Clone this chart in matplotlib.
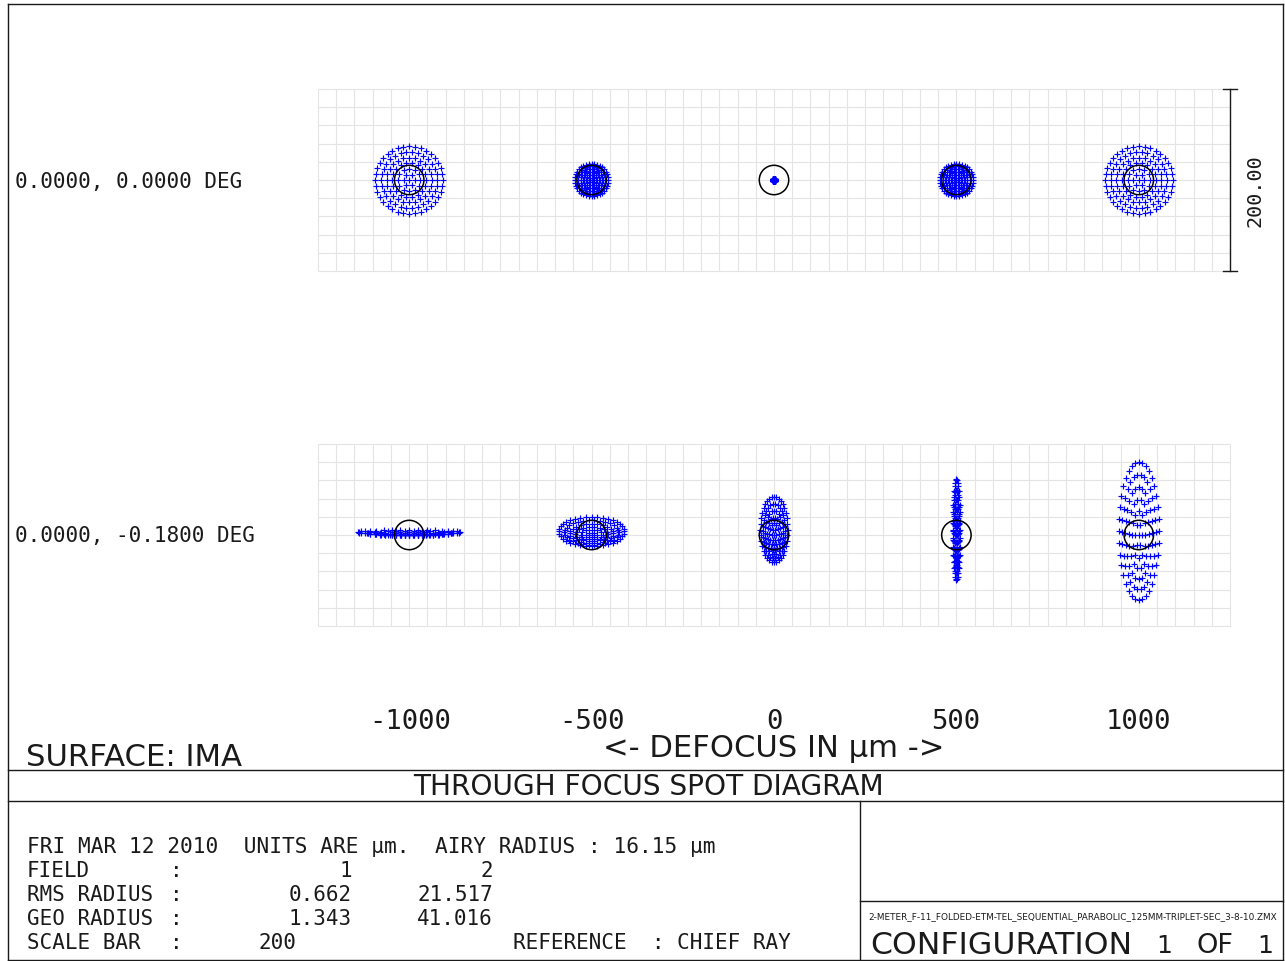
"""Through-focus spot diagram (Zemax style) redrawn with matplotlib."""

import numpy as np
import matplotlib
matplotlib.use("Agg")
import matplotlib.pyplot as plt
from matplotlib.lines import Line2D
from matplotlib.patches import Circle

W, H = 1285, 962

DEFOCUS = [-1000, -500, 0, 500, 1000]
FIELDS = ["0.0000, 0.0000 DEG", "0.0000, -0.1800 DEG"]
AIRY_RADIUS = 16.15
SCALE_BAR = 200
# spot half-widths / half-heights in µm
F1_HALF_X = [37, 18, 1.3, 18, 37]
F1_HALF_Y = [37, 18, 1.3, 18, 37]
F1_COMA = [0, 0, 0, 0, 0]
F2_HALF_X = [56, 36, 15, 4, 22]
F2_HALF_Y = [2.5, 16, 36, 55, 76]
F2_COMA = [3, 4, 6, 6, 4.5]
N_RINGS = 6

FIELD_NO = ["1", "2"]
RMS_RADIUS = ["0.662", "21.517"]
GEO_RADIUS = ["1.343", "41.016"]
LENS_FILE = ("2-METER_F-11_FOLDED-ETM-TEL_SEQUENTIAL_PARABOLIC_"
             "125MM-TRIPLET-SEC_3-8-10.ZMX")

MONO = "DejaVu Sans Mono"
WIDE = "DejaVu Sans"
INK = "#1a1a1a"
BLUE = "#0000ff"
GRID = "#e4e4e4"

fig = plt.figure(figsize=(W / 100, H / 100), dpi=100)
renderer = fig.canvas.get_renderer()


def fx(x):
    return x / W


def fy(y):
    return 1 - y / H


def hline(x0, x1, y, **kw):
    fig.add_artist(Line2D([fx(x0), fx(x1)], [fy(y), fy(y)],
                          transform=fig.transFigure, color=INK, lw=1.0, **kw))


def vline(x, y0, y1, **kw):
    fig.add_artist(Line2D([fx(x), fx(x)], [fy(y0), fy(y1)],
                          transform=fig.transFigure, color=INK, lw=1.0, **kw))


def txt(x, y, s, size, ha="left", family=MONO, **kw):
    return fig.text(fx(x), fy(y), s, ha=ha, va="center", fontsize=size,
                    family=family, color=INK, **kw)


def fit(x0, x1, y, s, size=15, family=MONO):
    # shrink/grow the font so the string spans x0..x1 pixels
    t = txt(x0, y, s, size, family=family)
    w = t.get_window_extent(renderer).width
    t.set_fontsize(size * (x1 - x0) / w)
    return t


# hexapolar pupil sampling
px, py = [0.0], [0.0]
for k in range(1, N_RINGS + 1):
    r = k / N_RINGS
    ang = 2 * np.pi * np.arange(6 * k) / (6 * k)
    px.extend(r * np.cos(ang))
    py.extend(r * np.sin(ang))
px, py = np.array(px), np.array(py)
r2 = px ** 2 + py ** 2


def panel(ytop, half_x, half_y, coma):
    ax = fig.add_axes([fx(318), fy(ytop + 182), 912 / W, 182 / H])
    ax.set_xlim(0, 1000)
    ax.set_ylim(-100, 100)
    ax.axis("off")
    g = np.arange(0, 1001, 20)
    ax.vlines(g, -100, 100, color=GRID, lw=0.8, zorder=0, clip_on=False)
    ax.hlines(np.arange(-100, 101, 20), 0, 1000, color=GRID, lw=0.8,
              zorder=0, clip_on=False)
    for i in range(len(DEFOCUS)):
        cx = 100 + 200 * i
        xs = cx + half_x[i] * px
        ys = half_y[i] * py + coma[i] * r2
        ax.plot(xs, ys, "+", color=BLUE, ms=5.0, mew=0.85, zorder=2)
        ax.add_patch(Circle((cx, 0), AIRY_RADIUS, fill=False, ec="black",
                            lw=1.1, zorder=3))
    return ax


ax1 = panel(90, F1_HALF_X, F1_HALF_Y, F1_COMA)
ax2 = panel(445, F2_HALF_X, F2_HALF_Y, F2_COMA)

# scale bar on the right edge of the top panel
ax1.plot([1000, 1000], [-SCALE_BAR / 2, SCALE_BAR / 2], color=INK, lw=1.0,
         clip_on=False)
for yy in (-SCALE_BAR / 2, SCALE_BAR / 2):
    ax1.plot([992, 1008], [yy, yy], color=INK, lw=1.0, clip_on=False)
ax1.text(1027, -11, f"{SCALE_BAR:.2f}", rotation=90, ha="center",
         va="center", fontsize=14.5, family=MONO, color=INK, clip_on=False)

# field labels
fit(15, 243, 182, FIELDS[0])
fit(15, 257, 536, FIELDS[1])

# defocus labels
for i, d in enumerate(DEFOCUS):
    txt(410 + 182 * i, 722, str(d), 19.5, ha="center")
fit(603, 945, 749, "<- DEFOCUS IN µm ->", 18, family=WIDE)
fit(26, 243, 758, "SURFACE: IMA", 18, family=WIDE)

# frame
hline(8, 1283, 5)
hline(8, 1283, 961)
vline(8, 5, 961)
vline(1283, 5, 961)
hline(8, 1283, 771)
hline(8, 1283, 802)
vline(860, 802, 961)
hline(860, 1283, 902)

fit(413, 884, 787, "THROUGH FOCUS SPOT DIAGRAM", 18, family=WIDE)

# info block
fit(27, 718, 847, "FRI MAR 12 2010  UNITS ARE µm.  AIRY RADIUS : "
    f"{AIRY_RADIUS:.2f} µm")
rows = [("FIELD", FIELD_NO), ("RMS RADIUS", RMS_RADIUS),
        ("GEO RADIUS", GEO_RADIUS)]
for j, (lab, vals) in enumerate(rows):
    y = 871 + 24 * j
    txt(27, y, lab, 15)
    txt(170, y, ":", 15)
    txt(352, y, vals[0], 15, ha="right")
    txt(493, y, vals[1], 15, ha="right")
txt(27, 943, "SCALE BAR", 15)
txt(170, 943, ":", 15)
txt(258, 943, str(SCALE_BAR), 15)
fit(513, 793, 943, "REFERENCE  : CHIEF RAY")

fit(868, 1277, 917, LENS_FILE, 7, family=["Liberation Sans Narrow",
                                           "DejaVu Sans"])
fit(870, 1132, 946, "CONFIGURATION", 18, family=WIDE)
txt(1164, 946, "1", 18, ha="center", family=WIDE)
fit(1197, 1234, 946, "OF", 18, family=WIDE)
txt(1265, 946, "1", 18, ha="center", family=WIDE)

fig.savefig("out.png", dpi=100)
